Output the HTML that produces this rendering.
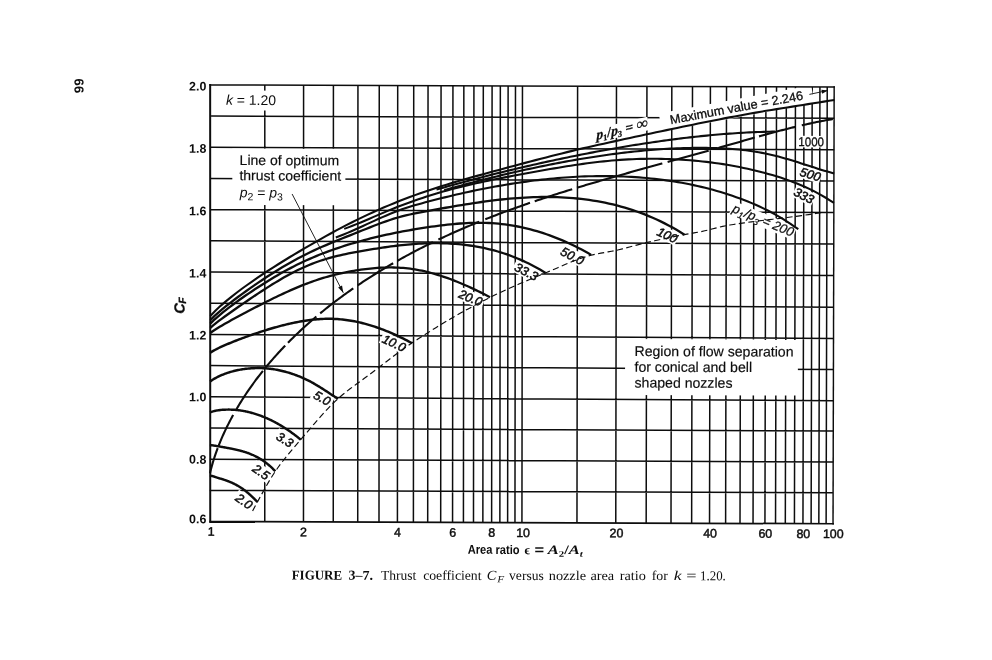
<!DOCTYPE html>
<html lang="en"><head><meta charset="utf-8"><title>Figure 3-7 Thrust coefficient versus nozzle area ratio</title>
<style>html,body{margin:0;padding:0;background:#fff}body{width:992px;height:660px;overflow:hidden}svg{display:block;filter:grayscale(1)}text{fill:#0d0d0d}</style></head><body>
<svg width="992" height="660" viewBox="0 0 992 660">
<rect width="992" height="660" fill="#fff"/>
<g transform="rotate(0.2 522 304)">
<path d="M264.04 86L265.53 522.66M302.82 86L304.24 522.66M332.65 86L334.02 522.66M357.18 86L358.5 522.66M378.49 86L379.76 522.66M396.94 86L398.18 522.66M412.96 86L414.16 522.66M427.28 86L428.46 522.66M440.3 86L441.45 522.66M452.18 86L453.32 522.66M463.08 86L464.19 522.66M473.16 86L474.25 522.66M482.55 86L483.62 522.66M491.33 86L492.39 522.66M499.58 86L500.63 522.66M507.36 86L508.39 522.66M514.72 86L515.73 522.66M521.7 86L522.7 522.66M576.84 86L577.73 522.66M615.72 86L616.54 522.66M646.18 86L646.94 522.66M671.06 86L671.77 522.66M691.74 86L692.41 522.66M709.65 86L710.29 522.66M725.77 86L726.38 522.66M740.2 86L740.78 522.66M753.26 86L753.81 522.66M765.18 86L765.71 522.66M775.78 86L776.3 522.66M785.59 86L786.08 522.66M794.72 86L795.19 522.66M803.26 86L803.72 522.66M811.45 86L811.89 522.66M819.17 86L819.6 522.66M826.47 86L826.89 522.66M210.4 491.47L833.6 491.57M210.4 460.28L833.6 460.98M210.4 429.09L833.6 429.89M210.4 397.9L833.6 399.6M210.4 366.71L833.6 368.51M210.4 335.52L833.6 337.42M210.4 304.33L833.6 306.23M210.4 273.14L833.6 274.44M210.4 241.95L833.6 242.95M210.4 210.76L833.6 211.36M210.4 179.57L833.6 179.97M210.4 148.38L833.6 148.68M210.4 117.19L833.6 117.19" fill="none" stroke="#0d0d0d" stroke-width="1.5"/>
<rect x="217.25" y="91.56" width="60.07" height="19.79" fill="#fff"/>
<rect x="231.86" y="149.61" width="113.1" height="56.31" fill="#fff"/>
<rect x="625.32" y="338.64" width="172.8" height="56" fill="#fff"/>
<rect transform="translate(244.89 502.17) rotate(36)" x="-10.88" y="-6.38" width="21.75" height="12.75" fill="#fff"/>
<rect transform="translate(261.79 472.71) rotate(35.5)" x="-10.88" y="-6.38" width="21.75" height="12.75" fill="#fff"/>
<rect transform="translate(285.47 440.33) rotate(32)" x="-10.88" y="-6.38" width="21.75" height="12.75" fill="#fff"/>
<rect transform="translate(322.63 398.7) rotate(29)" x="-10.88" y="-6.38" width="21.75" height="12.75" fill="#fff"/>
<rect transform="translate(394.34 343.45) rotate(25)" x="-14" y="-6.38" width="28" height="12.75" fill="#fff"/>
<rect transform="translate(470.58 297.88) rotate(22)" x="-14" y="-6.38" width="28" height="12.75" fill="#fff"/>
<rect transform="translate(526.39 271.58) rotate(27)" x="-14" y="-6.38" width="28" height="12.75" fill="#fff"/>
<rect transform="translate(572.33 255.72) rotate(27)" x="-14" y="-6.38" width="28" height="12.75" fill="#fff"/>
<rect transform="translate(667.06 234.49) rotate(25)" x="-10.88" y="-6.38" width="21.75" height="12.75" fill="#fff"/>
<rect transform="translate(803.62 194.52) rotate(27)" x="-10.88" y="-6.38" width="21.75" height="12.75" fill="#fff"/>
<rect transform="translate(809.95 173.19) rotate(17)" x="-10.88" y="-6.38" width="21.75" height="12.75" fill="#fff"/>
<rect transform="translate(810.63 140.59) rotate(0.3)" x="-14.25" y="-5.8" width="28.5" height="11.6" fill="#fff"/>
<rect transform="translate(621.39 129.25) rotate(-13.5)" x="-27.5" y="-6.75" width="55" height="13.5" fill="#fff"/>
<rect transform="translate(762.81 219.56) rotate(22.5)" x="-34" y="-6.75" width="68" height="13.5" fill="#fff"/>
<rect transform="translate(735.31 104.65) rotate(-10.7)" x="-77.5" y="-6" width="155" height="18" fill="#fff"/>
<path d="M209.4 86L833.4 86" fill="none" stroke="#0d0d0d" stroke-width="1.5" stroke-linecap="square"/>
<path d="M833.4 86L833.8 522.66" fill="none" stroke="#0d0d0d" stroke-width="1.45" stroke-linecap="square"/>
<path d="M833.8 522.66L211 522.66" fill="none" stroke="#0d0d0d" stroke-width="1.75" stroke-linecap="square"/>
<path d="M211 522.66L209.4 86" fill="none" stroke="#0d0d0d" stroke-width="2.0" stroke-linecap="square"/>
<g fill="none" stroke="#0d0d0d" stroke-width="2.45" stroke-linecap="butt" stroke-linejoin="round">
<path d="M210.4 317 L215.64 311.52 L220.87 306.65 L226.11 302.12 L231.35 297.83 L236.58 293.72 L241.82 289.76 L247.06 285.94 L252.3 282.22 L257.53 278.6 L262.77 275.06 L268.01 271.59 L273.24 268.19 L278.48 264.85 L283.72 261.57 L288.95 258.33 L294.19 255.14 L299.43 252 L304.67 248.89 L309.9 245.81 L315.14 242.78 L320.38 239.78 L325.61 236.83 L330.85 233.93 L336.09 231.07 L341.32 228.27 L346.56 225.53 L351.8 222.84 L357.04 220.21 L362.27 217.65 L367.51 215.16 L372.75 212.73 L377.98 210.36 L383.22 208.06 L388.46 205.82 L393.69 203.64 L398.93 201.52 L404.17 199.46 L409.41 197.46 L414.64 195.51 L419.88 193.63 L425.12 191.8 L430.35 190.02 L435.59 188.29 L440.83 186.61 L446.06 184.96 L451.3 183.36 L456.54 181.79 L461.77 180.25 L467.01 178.73 L472.25 177.24 L477.49 175.77 L482.72 174.31 L487.96 172.87 L493.2 171.43 L498.43 170 L503.67 168.57 L508.91 167.14 L514.14 165.71 L519.38 164.29 L524.62 162.87 L529.86 161.47 L535.09 160.07 L540.33 158.68 L545.57 157.31 L550.8 155.95 L556.04 154.6 L561.28 153.27 L566.51 151.97 L571.75 150.68 L576.99 149.41 L582.23 148.17 L587.46 146.95 L592.7 145.75 L597.94 144.56 L603.17 143.38 L608.41 142.22 L613.65 141.06 L618.88 139.9 L624.12 138.74 L629.36 137.59 L634.59 136.44 L639.83 135.29 L645.07 134.15 L650.31 133.01 L655.54 131.87 L660.78 130.74 L666.02 129.61 L671.25 128.49 L676.49 127.38 L681.73 126.26 L686.96 125.16 L692.2 124.07 L697.44 122.98 L702.68 121.9 L707.91 120.83 L713.15 119.77 L718.39 118.73 L723.62 117.7 L728.86 116.68 L734.1 115.67 L739.33 114.68 L744.57 113.7 L749.81 112.74 L755.05 111.8 L760.28 110.88 L765.52 109.97 L770.76 109.08 L775.99 108.21 L781.23 107.35 L786.47 106.5 L791.7 105.66 L796.94 104.82 L802.18 103.98 L807.42 103.14 L812.65 102.3 L817.89 101.45 L823.13 100.59 L828.36 99.72 L833.6 98.84" stroke-width="2.1"/>
<path d="M436.1 189.87 L438.94 189.04 L441.79 188.22 L444.63 187.41 L447.47 186.61 L450.31 185.8 L453.16 185.01 L456 184.22 L458.84 183.43 L461.69 182.65 L464.53 181.88 L467.37 181.11 L470.21 180.34 L473.06 179.58 L475.9 178.83 L478.74 178.08 L481.59 177.34 L484.43 176.6 L487.27 175.86 L490.11 175.13 L492.96 174.41 L495.8 173.69 L498.64 172.97 L501.49 172.26 L504.33 171.56 L507.17 170.86 L510.01 170.16 L512.86 169.47 L515.7 168.79 L518.54 168.11 L521.39 167.43 L524.23 166.76 L527.07 166.09 L529.91 165.43 L532.76 164.77 L535.6 164.12 L538.44 163.47 L541.29 162.83 L544.13 162.19 L546.97 161.56 L549.81 160.93 L552.66 160.31 L555.5 159.69 L558.34 159.08 L561.19 158.47 L564.03 157.87 L566.87 157.27 L569.71 156.67 L572.56 156.09 L575.4 155.5 L578.24 154.92 L581.08 154.35 L583.93 153.78 L586.77 153.22 L589.61 152.66 L592.46 152.11 L595.3 151.56 L598.14 151.02 L600.98 150.48 L603.83 149.95 L606.67 149.43 L609.51 148.91 L612.36 148.39 L615.2 147.88 L618.04 147.38 L620.88 146.88 L623.73 146.39 L626.57 145.91 L629.41 145.43 L632.26 144.95 L635.1 144.48 L637.94 144.02 L640.78 143.56 L643.63 143.12 L646.47 142.67 L649.31 142.23 L652.16 141.8 L655 141.38 L657.84 140.96 L660.68 140.55 L663.53 140.15 L666.37 139.75 L669.21 139.36 L672.06 138.97 L674.9 138.6 L677.74 138.23 L680.58 137.86 L683.43 137.51 L686.27 137.16 L689.11 136.82 L691.96 136.49 L694.8 136.16 L697.64 135.85 L700.48 135.54 L703.33 135.24 L706.17 134.94 L709.01 134.66 L711.85 134.38 L714.7 134.11 L717.54 133.85 L720.38 133.6 L723.23 133.36 L726.07 133.13 L728.91 132.91 L731.75 132.69 L734.6 132.49 L737.44 132.3 L740.28 132.11 L743.13 131.94 L745.97 131.77 L748.81 131.62 L751.65 131.47 L754.5 131.34 L757.34 131.22 L760.18 131.1 L763.03 131 L765.87 130.91 L768.71 130.84 L771.55 130.77 L774.4 130.71" stroke-width="2.1"/>
<path d="M443.8 190.43 L447.08 189.5 L450.35 188.58 L453.63 187.66 L456.91 186.75 L460.18 185.86 L463.46 184.96 L466.73 184.08 L470.01 183.2 L473.28 182.34 L476.56 181.48 L479.84 180.63 L483.11 179.78 L486.39 178.95 L489.66 178.12 L492.94 177.3 L496.21 176.49 L499.49 175.69 L502.76 174.89 L506.04 174.11 L509.32 173.33 L512.59 172.56 L515.87 171.8 L519.14 171.05 L522.42 170.31 L525.69 169.57 L528.97 168.85 L532.24 168.13 L535.52 167.43 L538.8 166.73 L542.07 166.04 L545.35 165.36 L548.62 164.7 L551.9 164.04 L555.17 163.39 L558.45 162.75 L561.73 162.12 L565 161.5 L568.28 160.89 L571.55 160.29 L574.83 159.71 L578.1 159.13 L581.38 158.57 L584.65 158.01 L587.93 157.47 L591.21 156.94 L594.48 156.42 L597.76 155.91 L601.03 155.41 L604.31 154.93 L607.58 154.46 L610.86 154 L614.13 153.55 L617.41 153.12 L620.69 152.7 L623.96 152.29 L627.24 151.9 L630.51 151.52 L633.79 151.16 L637.06 150.81 L640.34 150.47 L643.62 150.15 L646.89 149.85 L650.17 149.56 L653.44 149.28 L656.72 149.02 L659.99 148.78 L663.27 148.55 L666.54 148.34 L669.82 148.15 L673.1 147.98 L676.37 147.82 L679.65 147.68 L682.92 147.56 L686.2 147.46 L689.47 147.37 L692.75 147.31 L696.02 147.27 L699.3 147.24 L702.58 147.24 L705.85 147.26 L709.13 147.3 L712.4 147.36 L715.68 147.44 L718.95 147.55 L722.23 147.69 L725.51 147.85 L728.78 148.04 L732.06 148.27 L735.33 148.53 L738.61 148.82 L741.88 149.16 L745.16 149.53 L748.43 149.94 L751.71 150.39 L754.99 150.89 L758.26 151.43 L761.54 152.02 L764.81 152.66 L768.09 153.35 L771.36 154.1 L774.64 154.88 L777.91 155.71 L781.19 156.58 L784.47 157.49 L787.74 158.43 L791.02 159.4 L794.29 160.39 L797.57 161.4 L800.84 162.43 L804.12 163.47 L807.4 164.51 L810.67 165.55 L813.95 166.58 L817.22 167.6 L820.5 168.6 L823.77 169.58 L827.05 170.54 L830.32 171.46 L833.6 172.36" stroke-width="2.1"/>
<path d="M343.94 229.49 L348.05 227.97 L352.17 226.38 L356.28 224.71 L360.4 223 L364.51 221.25 L368.63 219.47 L372.74 217.68 L376.86 215.88 L380.97 214.09 L385.09 212.32 L389.2 210.57 L393.32 208.87 L397.43 207.22 L401.54 205.63 L405.66 204.1 L409.77 202.61 L413.89 201.16 L418 199.73 L422.12 198.32 L426.23 196.94 L430.35 195.6 L434.46 194.3 L438.58 193.05 L442.69 191.84 L446.81 190.68 L450.92 189.55 L455.04 188.45 L459.15 187.4 L463.27 186.37 L467.38 185.37 L471.5 184.4 L475.61 183.46 L479.73 182.54 L483.84 181.65 L487.96 180.77 L492.07 179.92 L496.19 179.08 L500.3 178.25 L504.42 177.44 L508.53 176.64 L512.64 175.84 L516.76 175.06 L520.87 174.28 L524.99 173.5 L529.1 172.73 L533.22 171.96 L537.33 171.2 L541.45 170.45 L545.56 169.7 L549.68 168.97 L553.79 168.25 L557.91 167.54 L562.02 166.85 L566.14 166.18 L570.25 165.52 L574.37 164.88 L578.48 164.26 L582.6 163.67 L586.71 163.1 L590.83 162.55 L594.94 162.03 L599.06 161.54 L603.17 161.08 L607.29 160.66 L611.4 160.26 L615.52 159.9 L619.63 159.58 L623.74 159.29 L627.86 159.04 L631.97 158.83 L636.09 158.65 L640.2 158.51 L644.32 158.41 L648.43 158.34 L652.55 158.31 L656.66 158.31 L660.78 158.36 L664.89 158.43 L669.01 158.55 L673.12 158.7 L677.24 158.89 L681.35 159.11 L685.47 159.37 L689.58 159.67 L693.7 160.01 L697.81 160.39 L701.93 160.8 L706.04 161.25 L710.16 161.75 L714.27 162.28 L718.39 162.85 L722.5 163.46 L726.61 164.11 L730.73 164.81 L734.84 165.54 L738.96 166.32 L743.07 167.15 L747.19 168.01 L751.3 168.93 L755.42 169.88 L759.53 170.89 L763.65 171.94 L767.76 173.04 L771.88 174.19 L775.99 175.41 L780.11 176.68 L784.22 178.03 L788.34 179.45 L792.45 180.95 L796.57 182.54 L800.68 184.23 L804.8 186.02 L808.91 187.91 L813.03 189.92 L817.14 192.05 L821.26 194.3 L825.37 196.69 L829.49 199.22 L833.6 201.85" stroke-width="2.1"/>
<path d="M335.57 238.17 L339.45 236.68 L343.34 235.11 L347.23 233.48 L351.11 231.79 L355 230.06 L358.89 228.29 L362.77 226.5 L366.66 224.69 L370.54 222.89 L374.43 221.1 L378.32 219.32 L382.2 217.58 L386.09 215.89 L389.98 214.25 L393.86 212.68 L397.75 211.18 L401.64 209.78 L405.52 208.45 L409.41 207.19 L413.29 205.99 L417.18 204.85 L421.07 203.75 L424.95 202.68 L428.84 201.63 L432.73 200.6 L436.61 199.59 L440.5 198.6 L444.38 197.63 L448.27 196.67 L452.16 195.74 L456.04 194.82 L459.93 193.92 L463.82 193.03 L467.7 192.17 L471.59 191.32 L475.47 190.5 L479.36 189.69 L483.25 188.9 L487.13 188.13 L491.02 187.39 L494.91 186.66 L498.79 185.95 L502.68 185.26 L506.57 184.6 L510.45 183.95 L514.34 183.33 L518.22 182.72 L522.11 182.14 L526 181.59 L529.88 181.05 L533.77 180.54 L537.66 180.05 L541.54 179.59 L545.43 179.15 L549.31 178.73 L553.2 178.34 L557.09 177.98 L560.97 177.64 L564.86 177.33 L568.75 177.05 L572.63 176.79 L576.52 176.56 L580.41 176.36 L584.29 176.19 L588.18 176.05 L592.06 175.94 L595.95 175.86 L599.84 175.81 L603.72 175.79 L607.61 175.8 L611.5 175.84 L615.38 175.91 L619.27 176.01 L623.15 176.15 L627.04 176.31 L630.93 176.51 L634.81 176.74 L638.7 177.01 L642.59 177.31 L646.47 177.64 L650.36 178.01 L654.24 178.41 L658.13 178.85 L662.02 179.33 L665.9 179.84 L669.79 180.39 L673.68 180.98 L677.56 181.61 L681.45 182.28 L685.34 182.99 L689.22 183.74 L693.11 184.54 L696.99 185.38 L700.88 186.26 L704.77 187.19 L708.65 188.16 L712.54 189.18 L716.43 190.26 L720.31 191.38 L724.2 192.55 L728.08 193.78 L731.97 195.05 L735.86 196.39 L739.74 197.78 L743.63 199.23 L747.52 200.74 L751.4 202.32 L755.29 203.97 L759.18 205.7 L763.06 207.51 L766.95 209.42 L770.83 211.42 L774.72 213.52 L778.61 215.73 L782.49 218.06 L786.38 220.5 L790.27 223.06 L794.15 225.67 L798.04 228.27" stroke-width="2.1"/>
<path d="M210.4 321.18 L214.38 317.22 L218.36 313.64 L222.35 310.25 L226.33 307 L230.31 303.84 L234.29 300.77 L238.27 297.76 L242.26 294.81 L246.24 291.92 L250.22 289.08 L254.2 286.29 L258.18 283.55 L262.17 280.86 L266.15 278.21 L270.13 275.62 L274.11 273.08 L278.09 270.6 L282.08 268.17 L286.06 265.8 L290.04 263.49 L294.02 261.25 L298 259.08 L301.99 256.98 L305.97 254.95 L309.95 253 L313.93 251.11 L317.91 249.27 L321.9 247.5 L325.88 245.76 L329.86 244.06 L333.84 242.4 L337.82 240.76 L341.81 239.14 L345.79 237.53 L349.77 235.93 L353.75 234.33 L357.73 232.72 L361.72 231.11 L365.7 229.49 L369.68 227.88 L373.66 226.3 L377.64 224.75 L381.63 223.25 L385.61 221.8 L389.59 220.43 L393.57 219.13 L397.55 217.93 L401.54 216.83 L405.52 215.82 L409.5 214.89 L413.48 214.03 L417.46 213.21 L421.45 212.43 L425.43 211.68 L429.41 210.94 L433.39 210.2 L437.37 209.46 L441.36 208.74 L445.34 208.02 L449.32 207.31 L453.3 206.61 L457.28 205.92 L461.27 205.25 L465.25 204.59 L469.23 203.95 L473.21 203.33 L477.19 202.72 L481.18 202.14 L485.16 201.58 L489.14 201.04 L493.12 200.53 L497.1 200.04 L501.09 199.58 L505.07 199.15 L509.05 198.76 L513.03 198.39 L517.01 198.07 L521 197.78 L524.98 197.53 L528.96 197.31 L532.94 197.14 L536.92 197.02 L540.91 196.93 L544.89 196.89 L548.87 196.9 L552.85 196.95 L556.83 197.05 L560.82 197.19 L564.8 197.39 L568.78 197.64 L572.76 197.94 L576.74 198.3 L580.73 198.71 L584.71 199.18 L588.69 199.7 L592.67 200.29 L596.65 200.93 L600.64 201.64 L604.62 202.41 L608.6 203.25 L612.58 204.15 L616.56 205.13 L620.55 206.17 L624.53 207.29 L628.51 208.48 L632.49 209.74 L636.47 211.09 L640.46 212.52 L644.44 214.02 L648.42 215.62 L652.4 217.3 L656.38 219.06 L660.37 220.92 L664.35 222.88 L668.33 224.92 L672.31 227.07 L676.29 229.32 L680.28 231.67 L684.26 234.13" stroke-width="2.3"/>
<path d="M210.4 324.74 L213.6 321.53 L216.8 318.62 L220 315.87 L223.19 313.22 L226.39 310.66 L229.59 308.17 L232.79 305.74 L235.99 303.36 L239.19 301.03 L242.39 298.74 L245.58 296.5 L248.78 294.29 L251.98 292.12 L255.18 289.99 L258.38 287.89 L261.58 285.83 L264.78 283.8 L267.97 281.81 L271.17 279.85 L274.37 277.93 L277.57 276.05 L280.77 274.21 L283.97 272.41 L287.17 270.65 L290.36 268.93 L293.56 267.25 L296.76 265.62 L299.96 264.04 L303.16 262.5 L306.36 261.01 L309.56 259.57 L312.75 258.18 L315.95 256.82 L319.15 255.51 L322.35 254.24 L325.55 253.01 L328.75 251.82 L331.95 250.66 L335.14 249.53 L338.34 248.43 L341.54 247.36 L344.74 246.32 L347.94 245.32 L351.14 244.33 L354.34 243.38 L357.53 242.45 L360.73 241.55 L363.93 240.68 L367.13 239.83 L370.33 239 L373.53 238.19 L376.73 237.41 L379.92 236.65 L383.12 235.91 L386.32 235.19 L389.52 234.5 L392.72 233.82 L395.92 233.16 L399.12 232.52 L402.31 231.9 L405.51 231.3 L408.71 230.71 L411.91 230.14 L415.11 229.59 L418.31 229.05 L421.5 228.53 L424.7 228.02 L427.9 227.53 L431.1 227.05 L434.3 226.59 L437.5 226.15 L440.7 225.73 L443.89 225.33 L447.09 224.95 L450.29 224.6 L453.49 224.28 L456.69 223.98 L459.89 223.72 L463.09 223.49 L466.28 223.3 L469.48 223.15 L472.68 223.03 L475.88 222.96 L479.08 222.93 L482.28 222.94 L485.48 223.01 L488.67 223.12 L491.87 223.28 L495.07 223.5 L498.27 223.77 L501.47 224.1 L504.67 224.48 L507.87 224.91 L511.06 225.4 L514.26 225.93 L517.46 226.52 L520.66 227.17 L523.86 227.86 L527.06 228.61 L530.26 229.41 L533.45 230.26 L536.65 231.16 L539.85 232.12 L543.05 233.13 L546.25 234.19 L549.45 235.31 L552.65 236.47 L555.84 237.69 L559.04 238.97 L562.24 240.29 L565.44 241.67 L568.64 243.11 L571.84 244.6 L575.04 246.14 L578.23 247.74 L581.43 249.39 L584.63 251.1 L587.83 252.86 L591.03 254.69" stroke-width="2.3"/>
<path d="M210.4 328.93 L213.22 326.43 L216.03 324.17 L218.85 321.99 L221.66 319.88 L224.48 317.81 L227.3 315.77 L230.11 313.75 L232.93 311.75 L235.74 309.76 L238.56 307.79 L241.37 305.82 L244.19 303.87 L247.01 301.93 L249.82 300.01 L252.64 298.1 L255.45 296.2 L258.27 294.32 L261.09 292.45 L263.9 290.61 L266.72 288.79 L269.53 286.99 L272.35 285.22 L275.17 283.48 L277.98 281.77 L280.8 280.09 L283.61 278.45 L286.43 276.84 L289.25 275.28 L292.06 273.77 L294.88 272.29 L297.69 270.87 L300.51 269.5 L303.32 268.19 L306.14 266.94 L308.96 265.74 L311.77 264.6 L314.59 263.51 L317.4 262.47 L320.22 261.49 L323.04 260.55 L325.85 259.67 L328.67 258.83 L331.48 258.03 L334.3 257.29 L337.12 256.58 L339.93 255.91 L342.75 255.28 L345.56 254.67 L348.38 254.09 L351.19 253.53 L354.01 252.99 L356.83 252.46 L359.64 251.94 L362.46 251.43 L365.27 250.93 L368.09 250.44 L370.91 249.96 L373.72 249.49 L376.54 249.03 L379.35 248.58 L382.17 248.15 L384.99 247.73 L387.8 247.32 L390.62 246.93 L393.43 246.56 L396.25 246.2 L399.06 245.86 L401.88 245.55 L404.7 245.25 L407.51 244.97 L410.33 244.71 L413.14 244.47 L415.96 244.26 L418.78 244.07 L421.59 243.91 L424.41 243.77 L427.22 243.66 L430.04 243.57 L432.86 243.52 L435.67 243.49 L438.49 243.5 L441.3 243.53 L444.12 243.59 L446.94 243.69 L449.75 243.82 L452.57 243.98 L455.38 244.17 L458.2 244.4 L461.01 244.66 L463.83 244.96 L466.65 245.3 L469.46 245.67 L472.28 246.08 L475.09 246.53 L477.91 247.01 L480.73 247.54 L483.54 248.11 L486.36 248.72 L489.17 249.38 L491.99 250.07 L494.81 250.82 L497.62 251.6 L500.44 252.44 L503.25 253.32 L506.07 254.25 L508.88 255.22 L511.7 256.25 L514.52 257.33 L517.33 258.46 L520.15 259.65 L522.96 260.88 L525.78 262.18 L528.6 263.53 L531.41 264.93 L534.23 266.4 L537.04 267.92 L539.86 269.51 L542.68 271.16 L545.49 272.87" stroke-width="2.3"/>
<path d="M210.4 334.11 L212.75 332.33 L215.1 330.76 L217.45 329.27 L219.8 327.84 L222.15 326.44 L224.5 325.08 L226.85 323.74 L229.2 322.42 L231.54 321.11 L233.89 319.82 L236.24 318.53 L238.59 317.26 L240.94 315.99 L243.29 314.73 L245.64 313.48 L247.99 312.23 L250.34 310.99 L252.69 309.75 L255.04 308.52 L257.39 307.3 L259.74 306.08 L262.09 304.87 L264.44 303.67 L266.79 302.48 L269.13 301.3 L271.48 300.13 L273.83 298.96 L276.18 297.81 L278.53 296.67 L280.88 295.55 L283.23 294.44 L285.58 293.34 L287.93 292.26 L290.28 291.2 L292.63 290.16 L294.98 289.13 L297.33 288.13 L299.68 287.15 L302.03 286.19 L304.38 285.25 L306.72 284.34 L309.07 283.45 L311.42 282.59 L313.77 281.75 L316.12 280.94 L318.47 280.15 L320.82 279.39 L323.17 278.65 L325.52 277.94 L327.87 277.25 L330.22 276.59 L332.57 275.96 L334.92 275.35 L337.27 274.77 L339.62 274.22 L341.97 273.69 L344.31 273.18 L346.66 272.7 L349.01 272.24 L351.36 271.8 L353.71 271.39 L356.06 270.99 L358.41 270.62 L360.76 270.26 L363.11 269.93 L365.46 269.62 L367.81 269.33 L370.16 269.07 L372.51 268.83 L374.86 268.61 L377.21 268.42 L379.56 268.26 L381.9 268.13 L384.25 268.03 L386.6 267.96 L388.95 267.92 L391.3 267.91 L393.65 267.93 L396 267.99 L398.35 268.09 L400.7 268.22 L403.05 268.39 L405.4 268.59 L407.75 268.83 L410.1 269.11 L412.45 269.43 L414.8 269.79 L417.15 270.18 L419.49 270.62 L421.84 271.09 L424.19 271.59 L426.54 272.13 L428.89 272.7 L431.24 273.31 L433.59 273.95 L435.94 274.63 L438.29 275.33 L440.64 276.06 L442.99 276.83 L445.34 277.62 L447.69 278.44 L450.04 279.29 L452.39 280.17 L454.74 281.07 L457.08 282 L459.43 282.95 L461.78 283.93 L464.13 284.93 L466.48 285.95 L468.83 287 L471.18 288.07 L473.53 289.15 L475.88 290.26 L478.23 291.39 L480.58 292.54 L482.93 293.71 L485.28 294.9 L487.63 296.1 L489.98 297.32" stroke-width="2.3"/>
<path d="M210.4 353.85 L212.09 352.7 L213.79 351.71 L215.48 350.79 L217.18 349.92 L218.87 349.08 L220.57 348.27 L222.26 347.49 L223.96 346.72 L225.65 345.97 L227.34 345.24 L229.04 344.52 L230.73 343.82 L232.43 343.12 L234.12 342.44 L235.82 341.76 L237.51 341.1 L239.21 340.44 L240.9 339.79 L242.59 339.15 L244.29 338.52 L245.98 337.9 L247.68 337.28 L249.37 336.67 L251.07 336.06 L252.76 335.47 L254.45 334.88 L256.15 334.3 L257.84 333.72 L259.54 333.15 L261.23 332.59 L262.93 332.04 L264.62 331.5 L266.32 330.96 L268.01 330.43 L269.7 329.91 L271.4 329.4 L273.09 328.9 L274.79 328.41 L276.48 327.92 L278.18 327.45 L279.87 326.99 L281.57 326.53 L283.26 326.09 L284.95 325.66 L286.65 325.24 L288.34 324.83 L290.04 324.43 L291.73 324.05 L293.43 323.67 L295.12 323.31 L296.82 322.97 L298.51 322.64 L300.2 322.32 L301.9 322.02 L303.59 321.73 L305.29 321.45 L306.98 321.2 L308.68 320.96 L310.37 320.73 L312.07 320.52 L313.76 320.33 L315.45 320.16 L317.15 320.01 L318.84 319.87 L320.54 319.75 L322.23 319.66 L323.93 319.58 L325.62 319.52 L327.32 319.49 L329.01 319.47 L330.7 319.48 L332.4 319.51 L334.09 319.56 L335.79 319.64 L337.48 319.73 L339.18 319.86 L340.87 320 L342.56 320.16 L344.26 320.35 L345.95 320.56 L347.65 320.79 L349.34 321.04 L351.04 321.31 L352.73 321.6 L354.43 321.91 L356.12 322.25 L357.81 322.6 L359.51 322.97 L361.2 323.37 L362.9 323.78 L364.59 324.21 L366.29 324.66 L367.98 325.13 L369.68 325.62 L371.37 326.13 L373.06 326.66 L374.76 327.2 L376.45 327.76 L378.15 328.35 L379.84 328.94 L381.54 329.56 L383.23 330.2 L384.93 330.85 L386.62 331.52 L388.31 332.2 L390.01 332.91 L391.7 333.63 L393.4 334.36 L395.09 335.12 L396.79 335.89 L398.48 336.67 L400.18 337.48 L401.87 338.3 L403.56 339.13 L405.26 339.98 L406.95 340.85 L408.65 341.74 L410.34 342.64 L412.04 343.55"/>
<path d="M210.4 382.6 L211.48 381.8 L212.55 381.07 L213.63 380.39 L214.7 379.74 L215.78 379.13 L216.85 378.55 L217.93 378 L219 377.47 L220.08 376.96 L221.15 376.48 L222.23 376.01 L223.3 375.57 L224.38 375.14 L225.45 374.73 L226.53 374.34 L227.6 373.97 L228.68 373.61 L229.75 373.26 L230.83 372.94 L231.9 372.62 L232.98 372.33 L234.05 372.04 L235.13 371.77 L236.2 371.52 L237.28 371.28 L238.35 371.05 L239.43 370.83 L240.5 370.63 L241.58 370.44 L242.65 370.26 L243.73 370.1 L244.8 369.94 L245.88 369.8 L246.95 369.67 L248.03 369.56 L249.1 369.45 L250.18 369.36 L251.25 369.27 L252.33 369.2 L253.4 369.14 L254.48 369.09 L255.55 369.06 L256.63 369.03 L257.7 369.01 L258.78 369.01 L259.85 369.01 L260.93 369.03 L262 369.05 L263.08 369.09 L264.15 369.14 L265.23 369.2 L266.3 369.27 L267.38 369.35 L268.45 369.44 L269.53 369.55 L270.6 369.67 L271.68 369.8 L272.75 369.95 L273.83 370.1 L274.9 370.27 L275.98 370.45 L277.05 370.64 L278.13 370.84 L279.2 371.06 L280.28 371.29 L281.35 371.52 L282.43 371.77 L283.5 372.03 L284.58 372.31 L285.65 372.59 L286.73 372.88 L287.8 373.19 L288.88 373.51 L289.95 373.83 L291.03 374.17 L292.1 374.52 L293.18 374.88 L294.25 375.25 L295.33 375.63 L296.4 376.02 L297.48 376.42 L298.55 376.83 L299.63 377.26 L300.7 377.69 L301.78 378.13 L302.85 378.59 L303.93 379.05 L305 379.53 L306.08 380.02 L307.15 380.53 L308.23 381.06 L309.3 381.61 L310.38 382.17 L311.45 382.74 L312.53 383.33 L313.6 383.92 L314.68 384.54 L315.75 385.16 L316.83 385.79 L317.9 386.43 L318.98 387.08 L320.05 387.74 L321.13 388.41 L322.2 389.08 L323.28 389.76 L324.35 390.45 L325.43 391.14 L326.51 391.83 L327.58 392.53 L328.66 393.22 L329.73 393.92 L330.81 394.63 L331.88 395.33 L332.96 396.03 L334.03 396.72 L335.11 397.39 L336.18 398.04 L337.26 398.69 L338.33 399.34"/>
<path d="M210.4 413.52 L211.16 413.19 L211.93 412.92 L212.69 412.67 L213.45 412.44 L214.22 412.24 L214.98 412.05 L215.75 411.88 L216.51 411.72 L217.27 411.58 L218.04 411.45 L218.8 411.33 L219.56 411.22 L220.33 411.12 L221.09 411.03 L221.85 410.95 L222.62 410.88 L223.38 410.82 L224.15 410.77 L224.91 410.73 L225.67 410.69 L226.44 410.66 L227.2 410.64 L227.96 410.63 L228.73 410.62 L229.49 410.62 L230.25 410.63 L231.02 410.64 L231.78 410.67 L232.55 410.7 L233.31 410.73 L234.07 410.78 L234.84 410.83 L235.6 410.89 L236.36 410.95 L237.13 411.03 L237.89 411.11 L238.65 411.19 L239.42 411.29 L240.18 411.39 L240.95 411.49 L241.71 411.61 L242.47 411.73 L243.24 411.86 L244 411.99 L244.76 412.13 L245.53 412.28 L246.29 412.43 L247.05 412.59 L247.82 412.76 L248.58 412.93 L249.35 413.11 L250.11 413.29 L250.87 413.49 L251.64 413.69 L252.4 413.89 L253.16 414.1 L253.93 414.32 L254.69 414.55 L255.46 414.78 L256.22 415.01 L256.98 415.26 L257.75 415.51 L258.51 415.76 L259.27 416.03 L260.04 416.29 L260.8 416.57 L261.56 416.85 L262.33 417.14 L263.09 417.44 L263.86 417.74 L264.62 418.04 L265.38 418.36 L266.15 418.68 L266.91 419.01 L267.67 419.34 L268.44 419.68 L269.2 420.03 L269.96 420.38 L270.73 420.74 L271.49 421.1 L272.26 421.48 L273.02 421.86 L273.78 422.24 L274.55 422.63 L275.31 423.03 L276.07 423.44 L276.84 423.85 L277.6 424.26 L278.36 424.69 L279.13 425.12 L279.89 425.56 L280.66 426 L281.42 426.45 L282.18 426.91 L282.95 427.37 L283.71 427.84 L284.47 428.32 L285.24 428.8 L286 429.29 L286.76 429.78 L287.53 430.29 L288.29 430.8 L289.06 431.31 L289.82 431.83 L290.58 432.36 L291.35 432.9 L292.11 433.44 L292.87 433.99 L293.64 434.54 L294.4 435.11 L295.16 435.68 L295.93 436.25 L296.69 436.83 L297.46 437.42 L298.22 438.02 L298.98 438.62 L299.75 439.23 L300.51 439.85 L301.27 440.47"/>
<path d="M210.4 446.19 L210.95 446.22 L211.5 446.27 L212.05 446.34 L212.6 446.4 L213.15 446.48 L213.7 446.56 L214.25 446.64 L214.8 446.72 L215.35 446.81 L215.9 446.9 L216.45 446.98 L217 447.07 L217.55 447.16 L218.1 447.25 L218.65 447.34 L219.2 447.44 L219.75 447.53 L220.31 447.62 L220.86 447.71 L221.41 447.81 L221.96 447.9 L222.51 447.99 L223.06 448.09 L223.61 448.18 L224.16 448.28 L224.71 448.37 L225.26 448.47 L225.81 448.57 L226.36 448.66 L226.91 448.76 L227.46 448.86 L228.01 448.96 L228.56 449.06 L229.11 449.16 L229.66 449.26 L230.21 449.36 L230.76 449.46 L231.31 449.57 L231.86 449.68 L232.41 449.78 L232.96 449.89 L233.51 450 L234.06 450.12 L234.61 450.23 L235.16 450.35 L235.71 450.46 L236.26 450.59 L236.81 450.71 L237.36 450.83 L237.91 450.96 L238.46 451.09 L239.02 451.22 L239.57 451.36 L240.12 451.49 L240.67 451.63 L241.22 451.78 L241.77 451.92 L242.32 452.07 L242.87 452.23 L243.42 452.38 L243.97 452.55 L244.52 452.71 L245.07 452.88 L245.62 453.05 L246.17 453.23 L246.72 453.41 L247.27 453.59 L247.82 453.78 L248.37 453.97 L248.92 454.17 L249.47 454.37 L250.02 454.58 L250.57 454.79 L251.12 455.01 L251.67 455.23 L252.22 455.46 L252.77 455.7 L253.32 455.94 L253.87 456.18 L254.42 456.43 L254.97 456.69 L255.52 456.95 L256.07 457.22 L256.62 457.5 L257.17 457.78 L257.73 458.07 L258.28 458.36 L258.83 458.67 L259.38 458.98 L259.93 459.29 L260.48 459.62 L261.03 459.95 L261.58 460.29 L262.13 460.63 L262.68 460.99 L263.23 461.35 L263.78 461.72 L264.33 462.1 L264.88 462.48 L265.43 462.88 L265.98 463.28 L266.53 463.69 L267.08 464.11 L267.63 464.54 L268.18 464.98 L268.73 465.43 L269.28 465.88 L269.83 466.35 L270.38 466.83 L270.93 467.31 L271.48 467.81 L272.03 468.31 L272.58 468.83 L273.13 469.35 L273.68 469.89 L274.23 470.44 L274.78 470.99 L275.33 471.56 L275.88 472.14"/>
<path d="M210.4 476.71 L210.8 476.72 L211.2 476.78 L211.6 476.86 L212 476.94 L212.4 477.04 L212.8 477.14 L213.21 477.25 L213.61 477.36 L214.01 477.48 L214.41 477.6 L214.81 477.73 L215.21 477.85 L215.61 477.98 L216.01 478.11 L216.41 478.24 L216.81 478.37 L217.21 478.5 L217.61 478.64 L218.01 478.77 L218.42 478.89 L218.82 479.02 L219.22 479.15 L219.62 479.27 L220.02 479.39 L220.42 479.5 L220.82 479.61 L221.22 479.73 L221.62 479.84 L222.02 479.96 L222.42 480.08 L222.82 480.2 L223.22 480.32 L223.63 480.44 L224.03 480.57 L224.43 480.7 L224.83 480.83 L225.23 480.96 L225.63 481.1 L226.03 481.23 L226.43 481.37 L226.83 481.51 L227.23 481.66 L227.63 481.8 L228.03 481.95 L228.43 482.1 L228.84 482.26 L229.24 482.41 L229.64 482.57 L230.04 482.73 L230.44 482.89 L230.84 483.06 L231.24 483.23 L231.64 483.4 L232.04 483.57 L232.44 483.75 L232.84 483.93 L233.24 484.11 L233.64 484.3 L234.05 484.49 L234.45 484.68 L234.85 484.87 L235.25 485.07 L235.65 485.28 L236.05 485.48 L236.45 485.69 L236.85 485.9 L237.25 486.12 L237.65 486.34 L238.05 486.56 L238.45 486.78 L238.85 487.01 L239.26 487.25 L239.66 487.49 L240.06 487.73 L240.46 487.97 L240.86 488.22 L241.26 488.48 L241.66 488.73 L242.06 489 L242.46 489.26 L242.86 489.53 L243.26 489.81 L243.66 490.09 L244.06 490.37 L244.47 490.66 L244.87 490.95 L245.27 491.25 L245.67 491.55 L246.07 491.86 L246.47 492.17 L246.87 492.49 L247.27 492.81 L247.67 493.13 L248.07 493.46 L248.47 493.79 L248.87 494.13 L249.27 494.47 L249.68 494.82 L250.08 495.17 L250.48 495.52 L250.88 495.88 L251.28 496.24 L251.68 496.6 L252.08 496.97 L252.48 497.34 L252.88 497.72 L253.28 498.1 L253.68 498.48 L254.08 498.87 L254.48 499.26 L254.89 499.65 L255.29 500.05 L255.69 500.45 L256.09 500.86 L256.49 501.26 L256.89 501.67 L257.29 502.09 L257.69 502.5 L258.09 502.92"/>
</g>
<path d="M210.7 474.56 L210.95 472.73 L211.41 470.89 L211.88 469.07 L212.36 467.25 L212.87 465.43 L213.39 463.62 L213.92 461.82 L214.48 460.02 L215.05 458.23 L215.63 456.45 L216.23 454.67 L216.85 452.9 L217.48 451.14 L218.12 449.38 L218.78 447.62 L219.46 445.87 L220.15 444.13 L220.85 442.4 L221.57 440.67 L222.3 438.95 L223.05 437.23 L223.8 435.52 L224.58 433.81 L225.36 432.11 L226.15 430.42 L226.96 428.73 L227.78 427.05 L228.62 425.38 L229.46 423.71 L230.32 422.05 L231.18 420.39 L232.06 418.74 L232.95 417.09 L233.85 415.46 L234.76 413.82 L235.68 412.2 L236.61 410.58 L237.55 408.96 L238.5 407.35 L239.46 405.75 L240.43 404.15 L241.41 402.56 L242.4 400.98 L243.4 399.4 L244.41 397.83 L245.43 396.26 L246.45 394.7 L247.49 393.15 L248.54 391.6 L249.59 390.05 L250.66 388.52 L251.73 386.99 L252.82 385.46 L253.91 383.94 L255.01 382.43 L256.12 380.92 L257.24 379.42 L258.37 377.93 L259.51 376.44 L260.65 374.96 L261.8 373.48 L262.97 372.01 L264.14 370.54 L265.32 369.08 L266.5 367.63 L267.7 366.18 L268.9 364.74 L270.11 363.3 L271.33 361.87 L272.56 360.45 L273.79 359.03 L275.03 357.62 L276.28 356.21 L277.54 354.81 L278.81 353.42 L280.08 352.03 L281.36 350.65 L282.65 349.27 L283.94 347.9 L285.24 346.54 L286.55 345.18 L287.87 343.82 L289.19 342.48 L290.52 341.13 L291.86 339.8 L293.2 338.47 L294.55 337.14 L295.91 335.83 L297.27 334.51 L298.64 333.21 L300.02 331.91 L301.4 330.61 L302.79 329.32 L304.19 328.04 L305.59 326.76 L306.99 325.49 L308.41 324.23 L309.83 322.97 L311.25 321.71 L312.68 320.46 L314.12 319.22 L315.56 317.99 L317.01 316.75 L318.46 315.53 L319.92 314.31 L321.38 313.1 L322.85 311.89 L324.33 310.69 L325.81 309.49 L327.29 308.3 L328.78 307.12 L330.28 305.94 L331.78 304.77 L333.28 303.6 L334.79 302.44 L336.31 301.28 L337.82 300.13 L339.35 298.99 L340.87 297.85 L342.41 296.72 L343.94 295.59 L345.48 294.47 L347.03 293.36 L348.58 292.25 L350.13 291.14 L351.69 290.04 L353.25 288.95 L354.81 287.87 L356.38 286.78 L357.95 285.71 L359.53 284.64 L361.11 283.58 L362.69 282.52 L364.27 281.47 L365.86 280.42 L367.46 279.38 L369.05 278.34 L370.65 277.31 L372.25 276.29 L373.86 275.27 L375.47 274.26 L377.08 273.25 L378.69 272.25 L380.31 271.26 L381.93 270.27 L383.55 269.28 L385.17 268.31 L386.8 267.33 L388.43 266.37 L390.06 265.4 L391.69 264.45 L393.33 263.5 L394.96 262.55 L396.6 261.62 L398.25 260.68 L399.89 259.75 L401.54 258.83 L403.18 257.92 L404.83 257 L406.49 256.1 L408.14 255.2 L409.8 254.3 L411.45 253.41 L413.11 252.53 L414.78 251.65 L416.44 250.77 L418.11 249.9 L419.77 249.04 L421.44 248.18 L423.12 247.33 L424.79 246.48 L426.47 245.63 L428.14 244.8 L429.82 243.96 L431.5 243.13 L433.19 242.31 L434.87 241.49 L436.56 240.67 L438.25 239.86 L439.94 239.06 L441.63 238.25 L443.32 237.46 L445.02 236.67 L446.72 235.88 L448.42 235.09 L450.12 234.32 L451.82 233.54 L453.52 232.77 L455.23 232.01 L456.94 231.25 L458.65 230.49 L460.36 229.74 L462.07 228.99 L463.78 228.24 L465.5 227.5 L467.22 226.77 L468.94 226.04 L470.66 225.31 L472.38 224.58 L474.1 223.86 L475.83 223.15 L477.56 222.43 L479.28 221.73 L481.01 221.02 L482.74 220.32 L484.48 219.62 L486.21 218.93 L487.95 218.24 L489.68 217.55 L491.42 216.87 L493.16 216.19 L494.91 215.52 L496.65 214.84 L498.39 214.18 L500.14 213.51 L501.89 212.85 L503.63 212.19 L505.38 211.54 L507.13 210.88 L508.89 210.23 L510.64 209.59 L512.4 208.95 L514.15 208.31 L515.91 207.67 L517.67 207.04 L519.43 206.41 L521.19 205.78 L522.95 205.16 L524.72 204.54 L526.48 203.92 L528.25 203.3 L530.01 202.69 L531.78 202.08 L533.55 201.47 L535.32 200.87 L537.1 200.27 L538.87 199.67 L540.64 199.07 L542.42 198.48 L544.19 197.88 L545.97 197.3 L547.75 196.71 L549.53 196.12 L551.31 195.54 L553.09 194.96 L554.87 194.39 L556.66 193.81 L558.44 193.24 L560.23 192.67 L562.01 192.1 L563.8 191.53 L565.59 190.97 L567.38 190.41 L569.17 189.84 L570.96 189.29 L572.75 188.73 L574.54 188.18 L576.34 187.62 L578.13 187.07 L579.93 186.52 L581.72 185.98 L583.52 185.43 L585.32 184.89 L587.12 184.34 L588.92 183.8 L590.72 183.27 L592.52 182.73 L594.32 182.19 L596.12 181.66 L597.93 181.12 L599.73 180.59 L601.53 180.06 L603.34 179.53 L605.15 179.01 L606.95 178.48 L608.76 177.95 L610.57 177.43 L612.38 176.91 L614.18 176.39 L615.99 175.87 L617.8 175.35 L619.62 174.83 L621.43 174.31 L623.24 173.79 L625.05 173.28 L626.86 172.76 L628.68 172.25 L630.49 171.73 L632.31 171.22 L634.12 170.71 L635.94 170.2 L637.75 169.69 L639.57 169.18 L641.39 168.67 L643.2 168.16 L645.02 167.65 L646.84 167.14 L648.66 166.63 L650.48 166.13 L652.3 165.62 L654.12 165.11 L655.94 164.6 L657.76 164.1 L659.58 163.59 L661.4 163.08 L663.22 162.58 L665.04 162.07 L666.86 161.56 L668.68 161.06 L670.51 160.55 L672.33 160.04 L674.15 159.54 L675.97 159.03 L677.8 158.52 L679.62 158.01 L681.44 157.51 L683.27 157 L685.09 156.49 L686.92 155.98 L688.74 155.47 L690.56 154.96 L692.39 154.45 L694.21 153.94 L696.04 153.42 L697.86 152.91 L699.69 152.4 L701.51 151.88 L703.34 151.37 L705.16 150.85 L706.98 150.33 L708.81 149.81 L710.63 149.3 L712.46 148.78 L714.28 148.25 L716.11 147.73 L717.93 147.21 L719.76 146.68 L721.58 146.16 L723.4 145.63 L725.23 145.11 L727.05 144.58 L728.88 144.05 L730.7 143.52 L732.52 142.99 L734.35 142.46 L736.17 141.94 L737.99 141.41 L739.81 140.88 L741.64 140.35 L743.46 139.83 L745.28 139.3 L747.1 138.78 L748.92 138.26 L750.75 137.73 L752.57 137.21 L754.39 136.7 L756.21 136.18 L758.03 135.66 L759.85 135.15 L761.67 134.64 L763.49 134.13 L765.3 133.63 L767.12 133.12 L768.94 132.62 L770.76 132.13 L772.57 131.63 L774.39 131.14 L776.21 130.65 L778.02 130.17 L779.84 129.69 L781.65 129.21 L783.47 128.74 L785.28 128.27 L787.09 127.8 L788.9 127.34 L790.72 126.89 L792.53 126.44 L794.34 125.99 L796.15 125.55 L797.96 125.11 L799.77 124.68 L801.58 124.26 L803.38 123.84 L805.19 123.42 L807 123.01 L808.8 122.61 L810.61 122.21 L812.41 121.82 L814.22 121.44 L816.02 121.06 L817.82 120.69 L819.62 120.33 L821.43 119.97 L823.23 119.62 L825.02 119.28 L826.82 118.95 L828.62 118.62 L830.42 118.3 L832.21 117.99" fill="none" stroke="#0d0d0d" stroke-width="2.1" stroke-dasharray="26.4 2.5 34.28 6 47.13 3.5 30.22 4 38.65 5 41.49 5.5 41.66 5 40.06 6 44.6 6.5 47.61 5 39.38 5 88.74 5.5 42.62 10 37.81 4.5 37.64 6.5 400 0"/>
<path d="M253.32 511.94 L256.9 505.1 L260.48 498.53 L264.07 492 L267.65 485.61 L271.23 479.5 L274.81 473.82 L278.39 468.63 L281.97 463.76 L285.55 459.13 L289.13 454.71 L292.71 450.41 L296.29 446.19 L299.87 441.99 L303.45 437.75 L307.04 433.5 L310.62 429.25 L314.2 425.03 L317.78 420.87 L321.36 416.79 L324.94 412.82 L328.52 408.98 L332.1 405.3 L335.68 401.8 L339.26 398.51 L342.84 395.41 L346.43 392.48 L350.01 389.68 L353.59 386.98 L357.17 384.35 L360.75 381.74 L364.33 379.13 L367.91 376.49 L371.49 373.78 L375.07 371.03 L378.65 368.25 L382.23 365.47 L385.81 362.69 L389.4 359.91 L392.98 357.16 L396.56 354.45 L400.14 351.78 L403.72 349.17 L407.3 346.62 L410.88 344.16 L414.46 341.77 L418.04 339.41 L421.62 337.07 L425.2 334.76 L428.79 332.47 L432.37 330.21 L435.95 327.98 L439.53 325.77 L443.11 323.59 L446.69 321.43 L450.27 319.3 L453.85 317.2 L457.43 315.12 L461.01 313.08 L464.59 311.06 L468.17 309.07 L471.76 307.1 L475.34 305.17 L478.92 303.26 L482.5 301.39 L486.08 299.54 L489.66 297.72 L493.24 295.94 L496.82 294.19 L500.4 292.48 L503.98 290.8 L507.56 289.15 L511.15 287.52 L514.73 285.92 L518.31 284.34 L521.89 282.78 L525.47 281.24 L529.05 279.71 L532.63 278.2 L536.21 276.69 L539.79 275.19 L543.37 273.7 L546.95 272.2 L550.53 270.67 L554.12 269.12 L557.7 267.54 L561.28 265.97 L564.86 264.41 L568.44 262.89 L572.02 261.41 L575.6 260 L579.18 258.66 L582.76 257.41 L586.34 256.27 L589.92 255.25 L593.51 254.36 L597.09 253.59 L600.67 252.91 L604.25 252.27 L607.83 251.63 L611.41 250.98 L614.99 250.26 L618.57 249.45 L622.15 248.56 L625.73 247.63 L629.31 246.66 L632.89 245.67 L636.48 244.69 L640.06 243.73 L643.64 242.81 L647.22 241.95 L650.8 241.12 L654.38 240.3 L657.96 239.5 L661.54 238.71 L665.12 237.94 L668.7 237.18 L672.28 236.43 L675.87 235.7 L679.45 234.98 L683.03 234.27 L686.61 233.59 L690.19 232.96 L693.77 232.34 L697.35 231.69 L700.93 230.97 L704.51 230.16 L708.09 229.28 L711.67 228.36 L715.25 227.44 L718.84 226.55 L722.42 225.71 L726 224.97 L729.58 224.33 L733.16 223.72 L736.74 223.14 L740.32 222.59 L743.9 222.06 L747.48 221.55 L751.06 221.05 L754.64 220.58 L758.22 220.11 L761.81 219.66 L765.39 219.21 L768.97 218.77 L772.55 218.33 L776.13 217.89 L779.71 217.45 L783.29 217.01 L786.87 216.55 L790.45 216.09 L794.03 215.61 L797.61 215.12 L801.2 214.61 L804.78 214.1 L808.36 213.57 L811.94 213.05 L815.52 212.52 L819.1 211.98 L822.68 211.45" fill="none" stroke="#0d0d0d" stroke-width="1.15" stroke-dasharray="6.2 3.4"/>
<text transform="translate(244.89 502.17) rotate(36)" x="0" y="4.5" text-anchor="middle" font-family='"Liberation Sans", Arial, Helvetica, sans-serif' font-size="12.5" font-style="italic" font-weight="normal" stroke="#0d0d0d" stroke-width="0.5">2.0</text>
<text transform="translate(261.79 472.71) rotate(35.5)" x="0" y="4.5" text-anchor="middle" font-family='"Liberation Sans", Arial, Helvetica, sans-serif' font-size="12.5" font-style="italic" font-weight="normal" stroke="#0d0d0d" stroke-width="0.5">2.5</text>
<text transform="translate(285.47 440.33) rotate(32)" x="0" y="4.5" text-anchor="middle" font-family='"Liberation Sans", Arial, Helvetica, sans-serif' font-size="12.5" font-style="italic" font-weight="normal" stroke="#0d0d0d" stroke-width="0.5">3.3</text>
<text transform="translate(322.63 398.7) rotate(29)" x="0" y="4.5" text-anchor="middle" font-family='"Liberation Sans", Arial, Helvetica, sans-serif' font-size="12.5" font-style="italic" font-weight="normal" stroke="#0d0d0d" stroke-width="0.5">5.0</text>
<text transform="translate(394.34 343.45) rotate(25)" x="0" y="4.5" text-anchor="middle" font-family='"Liberation Sans", Arial, Helvetica, sans-serif' font-size="12.5" font-style="italic" font-weight="normal" stroke="#0d0d0d" stroke-width="0.5">10.0</text>
<text transform="translate(470.58 297.88) rotate(22)" x="0" y="4.5" text-anchor="middle" font-family='"Liberation Sans", Arial, Helvetica, sans-serif' font-size="12.5" font-style="italic" font-weight="normal" stroke="#0d0d0d" stroke-width="0.5">20.0</text>
<text transform="translate(526.39 271.58) rotate(27)" x="0" y="4.5" text-anchor="middle" font-family='"Liberation Sans", Arial, Helvetica, sans-serif' font-size="12.5" font-style="italic" font-weight="normal" stroke="#0d0d0d" stroke-width="0.5">33.3</text>
<text transform="translate(572.33 255.72) rotate(27)" x="0" y="4.5" text-anchor="middle" font-family='"Liberation Sans", Arial, Helvetica, sans-serif' font-size="12.5" font-style="italic" font-weight="normal" stroke="#0d0d0d" stroke-width="0.5">50.0</text>
<text transform="translate(667.06 234.49) rotate(25)" x="0" y="4.5" text-anchor="middle" font-family='"Liberation Sans", Arial, Helvetica, sans-serif' font-size="12.5" font-style="italic" font-weight="normal" stroke="#0d0d0d" stroke-width="0.5">100</text>
<text transform="translate(803.62 194.52) rotate(27)" x="0" y="4.5" text-anchor="middle" font-family='"Liberation Sans", Arial, Helvetica, sans-serif' font-size="12.5" font-style="italic" font-weight="normal" stroke="#0d0d0d" stroke-width="0.5">333</text>
<text transform="translate(809.95 173.19) rotate(17)" x="0" y="4.5" text-anchor="middle" font-family='"Liberation Sans", Arial, Helvetica, sans-serif' font-size="12.5" font-style="italic" font-weight="normal" stroke="#0d0d0d" stroke-width="0.5">500</text>
<text transform="translate(810.63 140.59) rotate(0.3)" x="0" y="4.61" text-anchor="middle" font-family='"Liberation Sans", Arial, Helvetica, sans-serif' font-size="12.8" font-style="normal" font-weight="normal" textLength="25.6" lengthAdjust="spacingAndGlyphs" stroke="#0d0d0d" stroke-width="0.3">1000</text>
<text transform="translate(621.39 129.25) rotate(-13.5) skewX(-12)" x="0" y="4.04" text-anchor="middle" font-family='"Liberation Serif", "Times New Roman", Times, serif' font-size="14" font-style="italic" font-weight="bold" stroke="#0d0d0d" stroke-width="0.25"><tspan>p</tspan><tspan font-size="8.5" dy="2.5" font-style="normal">1</tspan><tspan dy="-2.5" font-style="normal">/</tspan><tspan>p</tspan><tspan font-size="8.5" dy="2.5" font-style="normal">3</tspan><tspan dy="-2.5" font-style="normal"> = <tspan font-size='16'>∞</tspan></tspan></text>
<text transform="translate(762.81 219.56) rotate(22.5)" x="0" y="4.14" text-anchor="middle" font-family='"Liberation Sans", Arial, Helvetica, sans-serif' font-size="12.9" font-style="italic" font-weight="normal" stroke="#0d0d0d" stroke-width="0.25"><tspan>p</tspan><tspan font-size="9" dy="3">1</tspan><tspan dy="-3" dx="1">/</tspan><tspan>p</tspan><tspan font-size="9" dy="3">3</tspan><tspan dy="-3"> = 200</tspan></text>
<text transform="translate(735.31 104.65) rotate(-10.7)" x="0" y="6.57" text-anchor="middle" font-family='"Liberation Sans", Arial, Helvetica, sans-serif' font-size="12.7" font-style="normal" font-weight="normal" stroke="#0d0d0d" stroke-width="0.3">Maximum value = 2.246</text>
<path d="M808.67 93.4L826.95 89.43" stroke="#0d0d0d" stroke-width="0.9" fill="none"/>
<path transform="translate(826.95 89.43) rotate(-12.23)" d="M0 0L-6 -2L-6 2Z" fill="#0d0d0d"/>
<text x="205.55" y="91.61" font-family='"Liberation Sans", Arial, Helvetica, sans-serif' font-size="12.4" font-weight="bold" font-style="normal" text-anchor="end" >2.0</text>
<text x="205.77" y="153.89" font-family='"Liberation Sans", Arial, Helvetica, sans-serif' font-size="12.4" font-weight="bold" font-style="normal" text-anchor="end" >1.8</text>
<text x="205.99" y="216.37" font-family='"Liberation Sans", Arial, Helvetica, sans-serif' font-size="12.4" font-weight="bold" font-style="normal" text-anchor="end" >1.6</text>
<text x="206.21" y="278.55" font-family='"Liberation Sans", Arial, Helvetica, sans-serif' font-size="12.4" font-weight="bold" font-style="normal" text-anchor="end" >1.4</text>
<text x="206.42" y="340.73" font-family='"Liberation Sans", Arial, Helvetica, sans-serif' font-size="12.4" font-weight="bold" font-style="normal" text-anchor="end" >1.2</text>
<text x="206.64" y="402.41" font-family='"Liberation Sans", Arial, Helvetica, sans-serif' font-size="12.4" font-weight="bold" font-style="normal" text-anchor="end" >1.0</text>
<text x="206.86" y="464.79" font-family='"Liberation Sans", Arial, Helvetica, sans-serif' font-size="12.4" font-weight="bold" font-style="normal" text-anchor="end" >0.8</text>
<text x="207.07" y="524.37" font-family='"Liberation Sans", Arial, Helvetica, sans-serif' font-size="12.4" font-weight="bold" font-style="normal" text-anchor="end" >0.6</text>
<text x="211.94" y="536.96" font-family='"Liberation Sans", Arial, Helvetica, sans-serif' font-size="12.4" font-weight="normal" font-style="normal" text-anchor="middle" stroke="#0d0d0d" stroke-width="0.45">1</text>
<text x="304.35" y="536.96" font-family='"Liberation Sans", Arial, Helvetica, sans-serif' font-size="12.4" font-weight="normal" font-style="normal" text-anchor="middle" stroke="#0d0d0d" stroke-width="0.45">2</text>
<text x="398.35" y="536.96" font-family='"Liberation Sans", Arial, Helvetica, sans-serif' font-size="12.4" font-weight="normal" font-style="normal" text-anchor="middle" stroke="#0d0d0d" stroke-width="0.45">4</text>
<text x="453.52" y="536.96" font-family='"Liberation Sans", Arial, Helvetica, sans-serif' font-size="12.4" font-weight="normal" font-style="normal" text-anchor="middle" stroke="#0d0d0d" stroke-width="0.45">6</text>
<text x="492.62" y="536.96" font-family='"Liberation Sans", Arial, Helvetica, sans-serif' font-size="12.4" font-weight="normal" font-style="normal" text-anchor="middle" stroke="#0d0d0d" stroke-width="0.45">8</text>
<text x="523.95" y="536.96" font-family='"Liberation Sans", Arial, Helvetica, sans-serif' font-size="12.4" font-weight="normal" font-style="normal" text-anchor="middle" stroke="#0d0d0d" stroke-width="0.45">10</text>
<text x="617.25" y="536.96" font-family='"Liberation Sans", Arial, Helvetica, sans-serif' font-size="12.4" font-weight="normal" font-style="normal" text-anchor="middle" stroke="#0d0d0d" stroke-width="0.45">20</text>
<text x="710.86" y="536.96" font-family='"Liberation Sans", Arial, Helvetica, sans-serif' font-size="12.4" font-weight="normal" font-style="normal" text-anchor="middle" stroke="#0d0d0d" stroke-width="0.45">40</text>
<text x="766.12" y="536.96" font-family='"Liberation Sans", Arial, Helvetica, sans-serif' font-size="12.4" font-weight="normal" font-style="normal" text-anchor="middle" stroke="#0d0d0d" stroke-width="0.45">60</text>
<text x="804.15" y="536.96" font-family='"Liberation Sans", Arial, Helvetica, sans-serif' font-size="12.4" font-weight="normal" font-style="normal" text-anchor="middle" stroke="#0d0d0d" stroke-width="0.45">80</text>
<text x="834.15" y="536.96" font-family='"Liberation Sans", Arial, Helvetica, sans-serif' font-size="12.4" font-weight="normal" font-style="normal" text-anchor="middle" stroke="#0d0d0d" stroke-width="0.45">100</text>
<text transform="translate(82.84 87.33) rotate(-90)" text-anchor="middle" font-family='"Liberation Sans", Arial, Helvetica, sans-serif' font-size="13.2" font-weight="bold">99</text>
<text transform="translate(184.61 306.78) rotate(-90)" text-anchor="middle" font-family='"Liberation Sans", Arial, Helvetica, sans-serif' font-size="14.6" font-weight="bold" font-style="italic" stroke="#0d0d0d" stroke-width="0.3">C<tspan font-size="10.5" dy="1.5" dx="-0.5">F</tspan></text>
<text x="225.2" y="105.83" font-family='"Liberation Sans", Arial, Helvetica, sans-serif' font-size="14" font-weight="normal" font-style="normal" text-anchor="start" ><tspan font-style="italic">k</tspan> = 1.20</text>
<text x="239.11" y="165.99" font-family='"Liberation Sans", Arial, Helvetica, sans-serif' font-size="14" font-weight="normal" font-style="normal" text-anchor="start" stroke="#0d0d0d" stroke-width="0.18">Line of optimum</text>
<text x="238.97" y="181.29" font-family='"Liberation Sans", Arial, Helvetica, sans-serif' font-size="14" font-weight="normal" font-style="normal" text-anchor="start" stroke="#0d0d0d" stroke-width="0.18">thrust coefficient</text>
<text x="239.33" y="198.29" font-family='"Liberation Sans", Arial, Helvetica, sans-serif' font-size="14" font-weight="normal" font-style="normal" text-anchor="start" ><tspan font-style="italic">p</tspan><tspan font-size="10.5" dy="3">2</tspan><tspan dy="-3"> = </tspan><tspan font-style="italic">p</tspan><tspan font-size="10.5" dy="3">3</tspan></text>
<text x="634.68" y="355.61" font-family='"Liberation Sans", Arial, Helvetica, sans-serif' font-size="14.1" font-weight="normal" font-style="normal" text-anchor="start" stroke="#0d0d0d" stroke-width="0.18">Region of flow separation</text>
<text x="634.74" y="371.31" font-family='"Liberation Sans", Arial, Helvetica, sans-serif' font-size="14.1" font-weight="normal" font-style="normal" text-anchor="start" stroke="#0d0d0d" stroke-width="0.18">for conical and bell</text>
<text x="634.79" y="387.11" font-family='"Liberation Sans", Arial, Helvetica, sans-serif' font-size="14.1" font-weight="normal" font-style="normal" text-anchor="start" stroke="#0d0d0d" stroke-width="0.18">shaped nozzles</text>
<path d="M291.72 194.8L343.26 293.42" stroke="#0d0d0d" stroke-width="0.9" fill="none"/>
<path transform="translate(343.26 293.42) rotate(62.41)" d="M0 0L-7 -2.2L-7 2.2Z" fill="#0d0d0d"/>
<text x="468.57" y="553.99" font-family='"Liberation Sans", Arial, Helvetica, sans-serif' font-size="12.6" font-weight="bold" font-style="normal" text-anchor="start" textLength="51.8" lengthAdjust="spacingAndGlyphs">Area ratio</text>
<text x="525.47" y="554.19" font-family='"Liberation Serif", "Times New Roman", Times, serif' font-size="13" font-weight="bold" font-style="normal" text-anchor="start" >ϵ</text>
<text x="535.47" y="553.96" font-family='"Liberation Sans", Arial, Helvetica, sans-serif' font-size="13" font-weight="bold" font-style="normal" text-anchor="start" textLength="9.6" lengthAdjust="spacingAndGlyphs">=</text>
<text transform="translate(548.67 553.91) scale(1.27 1)" font-family='"Liberation Serif", "Times New Roman", Times, serif' font-size="13" font-weight="bold" font-style="italic">A<tspan font-size="8.5" dy="2.6" font-style="normal">2</tspan><tspan dy="-2.6" font-style="normal">/</tspan>A<tspan font-size="8.5" dy="2.6">t</tspan></text>
<text x="292.66" y="580.3" font-family='"Liberation Serif", "Times New Roman", Times, serif' font-size="13.5" font-weight="bold" font-style="normal" text-anchor="start" textLength="50.4" lengthAdjust="spacingAndGlyphs">FIGURE</text>
<text x="349.56" y="580.2" font-family='"Liberation Serif", "Times New Roman", Times, serif' font-size="13.5" font-weight="bold" font-style="normal" text-anchor="start" textLength="24.5" lengthAdjust="spacingAndGlyphs">3–7.</text>
<text x="382.06" y="580.14" font-family='"Liberation Serif", "Times New Roman", Times, serif' font-size="13.5" font-weight="normal" font-style="normal" text-anchor="start" textLength="35.3" lengthAdjust="spacingAndGlyphs">Thrust</text>
<text x="424.16" y="580.06" font-family='"Liberation Serif", "Times New Roman", Times, serif' font-size="13.5" font-weight="normal" font-style="normal" text-anchor="start" textLength="58.3" lengthAdjust="spacingAndGlyphs">coefficient</text>
<text x="487.76" y="579.94" font-family='"Liberation Serif", "Times New Roman", Times, serif' font-size="13.5" font-weight="normal" font-style="italic" text-anchor="start" textLength="9.6" lengthAdjust="spacingAndGlyphs">C</text>
<text x="510.06" y="579.9" font-family='"Liberation Serif", "Times New Roman", Times, serif' font-size="13.5" font-weight="normal" font-style="normal" text-anchor="start" textLength="34.7" lengthAdjust="spacingAndGlyphs">versus</text>
<text x="549.76" y="579.82" font-family='"Liberation Serif", "Times New Roman", Times, serif' font-size="13.5" font-weight="normal" font-style="normal" text-anchor="start" textLength="37.2" lengthAdjust="spacingAndGlyphs">nozzle</text>
<text x="591.36" y="579.74" font-family='"Liberation Serif", "Times New Roman", Times, serif' font-size="13.5" font-weight="normal" font-style="normal" text-anchor="start" textLength="23.8" lengthAdjust="spacingAndGlyphs">area</text>
<text x="620.66" y="579.69" font-family='"Liberation Serif", "Times New Roman", Times, serif' font-size="13.5" font-weight="normal" font-style="normal" text-anchor="start" textLength="26.1" lengthAdjust="spacingAndGlyphs">ratio</text>
<text x="652.66" y="579.63" font-family='"Liberation Serif", "Times New Roman", Times, serif' font-size="13.5" font-weight="normal" font-style="normal" text-anchor="start" textLength="16.1" lengthAdjust="spacingAndGlyphs">for</text>
<text x="674.76" y="579.59" font-family='"Liberation Serif", "Times New Roman", Times, serif' font-size="13.5" font-weight="normal" font-style="italic" text-anchor="start" textLength="7.8" lengthAdjust="spacingAndGlyphs">k</text>
<text x="687.16" y="579.56" font-family='"Liberation Serif", "Times New Roman", Times, serif' font-size="13.5" font-weight="normal" font-style="normal" text-anchor="start" textLength="10.3" lengthAdjust="spacingAndGlyphs">=</text>
<text x="701.06" y="579.54" font-family='"Liberation Serif", "Times New Roman", Times, serif' font-size="13.5" font-weight="normal" font-style="normal" text-anchor="start" textLength="25.7" lengthAdjust="spacingAndGlyphs">1.20.</text>
<text x="498.17" y="582.39" font-family='"Liberation Serif", "Times New Roman", Times, serif' font-size="9.5" font-weight="normal" font-style="italic" text-anchor="start" textLength="6.9" lengthAdjust="spacingAndGlyphs">F</text>
</g></svg></body></html>
